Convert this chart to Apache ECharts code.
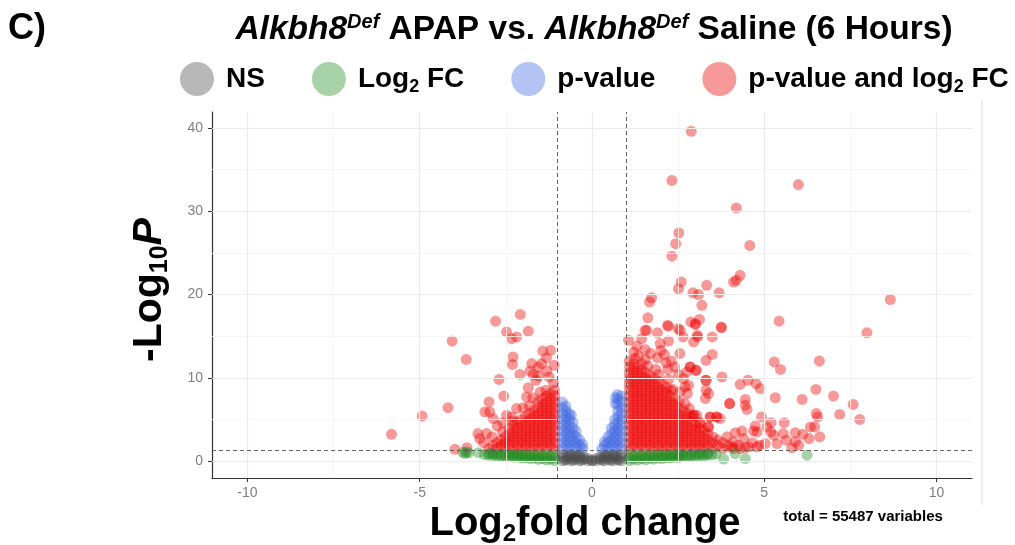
<!DOCTYPE html>
<html>
<head>
<meta charset="utf-8">
<script src="https://cdn.jsdelivr.net/npm/echarts@6/dist/echarts.min.js"></script>
<style>html,body{margin:0;padding:0;background:#fff}#c{width:1015px;height:545px}</style>
</head>
<body>
<div id="c"></div>
<script>
const xTicks = [-10, -5, 0, 5, 10];
const xMinor = [-7.5, -2.5, 2.5, 7.5];
const yTicks = [0, 10, 20, 30, 40];
const yMinor = [5, 15, 25, 35];
const fcCutoff = 1;
const pCutoff = 1.3;
const seriesNames = ['NS', 'Log2 FC', 'p-value', 'p-value and log2 FC'];

// grey: not significant
const nsPoints = [
[-0.84,0.02],[-0.84,0.38],[-0.84,0.74],
[-0.72,0.2],[-0.72,0.56],
[-0.6,0.02],[-0.6,0.38],[-0.6,0.74],
[-0.48,0.2],[-0.48,0.56],
[-0.36,0.02],[-0.36,0.38],[-0.36,0.72],
[-0.24,0.2],[-0.24,0.5],
[-0.12,0.02],[-0.12,0.3],
[0.0,0.02],[0.0,0.12],
[0.12,0.02],[0.12,0.3],
[0.24,0.2],[0.24,0.5],
[0.36,0.02],[0.36,0.38],[0.36,0.72],
[0.48,0.2],[0.48,0.56],
[0.6,0.02],[0.6,0.38],[0.6,0.74],
[0.72,0.2],[0.72,0.56],
[0.84,0.02],[0.84,0.38],[0.84,0.74],
[-0.78,0.1],[-0.66,0.66],[-0.54,0.1],[-0.42,0.64],[-0.3,0.1],
[0.3,0.1],[0.42,0.64],[0.54,0.1],[0.66,0.66],[0.78,0.1]
];

// green: log2 FC only
const fcPoints = [
[-1.08,0.05],[-1.08,0.42],[-1.08,0.76],[-1.2,0.24],[-1.2,0.6],
[-1.32,0.12],[-1.32,0.46],[-1.32,0.76],[-1.44,0.3],[-1.44,0.63],
[-1.56,0.2],[-1.56,0.5],[-1.56,0.77],[-1.68,0.36],[-1.68,0.66],
[-1.8,0.28],[-1.8,0.56],[-1.8,0.78],[-1.92,0.42],[-1.92,0.7],
[-2.04,0.36],[-2.04,0.6],[-2.04,0.8],[-2.16,0.5],[-2.16,0.75],
[-2.28,0.45],[-2.28,0.66],[-2.28,0.82],[-2.4,0.56],[-2.4,0.8],
[-2.52,0.52],[-2.52,0.72],[-2.64,0.62],[-2.64,0.84],
[-2.76,0.6],[-2.76,0.8],[-2.88,0.68],[-2.88,0.88],
[-3.0,0.7],[-3.0,0.9],[-3.12,0.78],
[-3.75,1.05],[-3.65,1.1],[-3.58,0.98],[-3.68,0.9],[-3.3,1.0],
[1.08,0.05],[1.08,0.4],[1.08,0.75],[1.2,0.22],[1.2,0.58],
[1.32,0.1],[1.32,0.45],[1.32,0.75],[1.44,0.28],[1.44,0.62],
[1.56,0.15],[1.56,0.48],[1.56,0.75],[1.68,0.32],[1.68,0.64],
[1.8,0.22],[1.8,0.5],[1.8,0.76],[1.92,0.36],[1.92,0.66],
[2.04,0.28],[2.04,0.55],[2.04,0.77],[2.16,0.42],[2.16,0.7],
[2.28,0.35],[2.28,0.6],[2.28,0.78],[2.4,0.48],[2.4,0.74],
[2.52,0.42],[2.52,0.65],[2.52,0.8],[2.64,0.55],[2.64,0.78],
[2.76,0.5],[2.76,0.72],[2.88,0.6],[2.88,0.8],
[3.0,0.55],[3.0,0.78],[3.12,0.65],[3.12,0.85],
[3.24,0.62],[3.24,0.82],[3.36,0.7],[3.36,0.9],
[3.48,0.75],[3.6,0.85],
[3.82,0.24],[4.16,0.9],[4.45,0.3],[6.24,0.7]
];

// blue: p-value only
const pPoints = [
[-0.85,1.5],[-0.85,2.2],[-0.85,2.9],[-0.85,3.6],[-0.85,4.3],[-0.85,5.0],[-0.85,5.7],[-0.85,6.4],[-0.86,7.1],
[-0.75,1.85],[-0.75,2.55],[-0.75,3.25],[-0.75,3.95],[-0.75,4.65],[-0.75,5.35],[-0.75,6.05],[-0.76,6.6],
[-0.65,1.5],[-0.65,2.2],[-0.65,2.9],[-0.65,3.6],[-0.65,4.3],[-0.65,5.0],[-0.66,5.7],
[-0.55,1.85],[-0.55,2.55],[-0.55,3.25],[-0.55,3.95],[-0.55,4.65],[-0.6,5.5],
[-0.45,1.5],[-0.45,2.2],[-0.45,2.9],[-0.46,3.6],
[-0.35,1.85],[-0.36,2.55],
[-0.26,1.5],[-0.27,2.0],
[0.85,1.5],[0.85,2.2],[0.85,2.9],[0.85,3.6],[0.85,4.3],[0.85,5.0],[0.85,5.7],[0.85,6.4],[0.85,7.1],[0.84,7.8],
[0.75,1.85],[0.75,2.55],[0.75,3.25],[0.75,3.95],[0.75,4.65],[0.75,5.35],[0.75,6.05],[0.75,6.75],[0.75,7.45],[0.74,8.0],
[0.68,6.9],[0.68,7.6],
[0.65,1.5],[0.65,2.2],[0.65,2.9],[0.65,3.6],[0.65,4.3],[0.66,5.0],
[0.55,1.85],[0.55,2.55],[0.55,3.25],[0.56,3.95],
[0.45,1.5],[0.45,2.2],[0.46,2.9],
[0.36,1.85],[0.36,2.3],
[0.28,1.45]
];

// red: p-value and log2 FC
const bothPoints = [
// left dense core
[-1.08,1.5],[-1.08,2.2],[-1.08,2.9],[-1.08,3.6],[-1.08,4.3],[-1.08,5.0],[-1.08,5.7],[-1.08,6.4],[-1.08,7.1],[-1.08,7.8],[-1.09,8.5],
[-1.2,1.85],[-1.2,2.55],[-1.2,3.25],[-1.2,3.95],[-1.2,4.65],[-1.2,5.35],[-1.2,6.05],[-1.2,6.75],[-1.2,7.45],[-1.21,8.15],
[-1.32,1.5],[-1.32,2.2],[-1.32,2.9],[-1.32,3.6],[-1.32,4.3],[-1.32,5.0],[-1.32,5.7],[-1.32,6.4],[-1.32,7.1],[-1.33,7.8],
[-1.44,1.85],[-1.44,2.55],[-1.44,3.25],[-1.44,3.95],[-1.44,4.65],[-1.44,5.35],[-1.44,6.05],[-1.44,6.75],[-1.45,7.45],
[-1.56,1.5],[-1.56,2.2],[-1.56,2.9],[-1.56,3.6],[-1.56,4.3],[-1.56,5.0],[-1.56,5.7],[-1.56,6.4],[-1.57,7.1],
[-1.68,1.85],[-1.68,2.55],[-1.68,3.25],[-1.68,3.95],[-1.68,4.65],[-1.68,5.35],[-1.69,6.05],
[-1.8,1.5],[-1.8,2.2],[-1.8,2.9],[-1.8,3.6],[-1.8,4.3],[-1.8,5.0],[-1.81,5.7],
[-1.92,1.85],[-1.92,2.55],[-1.92,3.25],[-1.92,3.95],[-1.92,4.65],[-1.93,5.35],
[-2.04,1.5],[-2.04,2.2],[-2.04,2.9],[-2.04,3.6],[-2.04,4.3],[-2.05,5.0],
[-2.16,1.85],[-2.16,2.55],[-2.16,3.25],[-2.16,3.95],[-2.17,4.65],
[-2.28,1.5],[-2.28,2.2],[-2.28,2.9],[-2.28,3.6],[-2.29,4.3],
[-2.4,1.85],[-2.4,2.55],[-2.4,3.25],[-2.41,3.9],
[-2.52,1.5],[-2.52,2.2],[-2.52,2.9],
[-2.64,1.85],[-2.64,2.55],
[-2.76,1.5],[-2.76,2.2],
[-2.88,1.85],[-3.0,1.5],
// left scattered
[-5.82,3.2],[-4.93,5.4],[-4.18,6.4],[-4.06,14.4],[-3.65,12.2],[-2.80,16.8],[-2.08,17.6],
[-2.48,15.5],[-2.33,14.7],[-2.19,14.9],[-1.85,15.6],[-2.29,12.5],[-2.31,11.6],[-2.09,10.4],[-2.70,9.8],
[-1.43,13.2],[-1.20,13.3],[-1.32,12.4],[-1.75,11.7],[-1.56,11.3],[-1.46,11.7],[-1.31,10.8],[-1.80,10.8],
[-2.56,7.8],[-2.99,7.1],[-3.11,5.9],[-2.97,5.9],[-2.87,5.1],[-3.31,3.3],[-3.06,3.3],[-3.26,2.7],
[-3.98,1.4],[-3.63,1.6],[-2.48,5.5],[-2.33,5.3],[-2.19,6.3],[-1.90,7.7],[-1.82,6.6],
[-1.12,9.4],[-1.63,9.7],[-1.85,8.8],[-1.34,8.5],[-2.75,4.2],[-2.6,4.6],[-2.3,4.8],[-1.55,10.2],[-1.25,10.1],[-1.1,11.5],[-1.7,10.4],
[-1.5,8.3],[-1.72,7.6],[-2.0,6.4],[-2.6,3.5],[-2.9,2.9],[-3.15,2.2],
// right dense core
[1.08,1.5],[1.08,2.2],[1.08,2.9],[1.08,3.6],[1.08,4.3],[1.08,5.0],[1.08,5.7],[1.08,6.4],[1.08,7.1],[1.08,7.8],[1.08,8.5],[1.08,9.2],[1.08,9.9],[1.08,10.6],[1.09,11.3],[1.08,12.0],[1.06,14.5],
[1.2,1.85],[1.2,2.55],[1.2,3.25],[1.2,3.95],[1.2,4.65],[1.2,5.35],[1.2,6.05],[1.2,6.75],[1.2,7.45],[1.2,8.15],[1.2,8.85],[1.2,9.55],[1.2,10.25],[1.2,10.95],[1.21,11.65],[1.24,12.3],[1.22,13.1],
[1.32,1.5],[1.32,2.2],[1.32,2.9],[1.32,3.6],[1.32,4.3],[1.32,5.0],[1.32,5.7],[1.32,6.4],[1.32,7.1],[1.32,7.8],[1.32,8.5],[1.32,9.2],[1.32,9.9],[1.32,10.6],[1.33,11.3],[1.35,12.6],[1.3,13.8],
[1.44,1.85],[1.44,2.55],[1.44,3.25],[1.44,3.95],[1.44,4.65],[1.44,5.35],[1.44,6.05],[1.44,6.75],[1.44,7.45],[1.44,8.15],[1.44,8.85],[1.44,9.55],[1.44,10.25],[1.44,10.95],[1.45,11.65],[1.44,14.7],
[1.56,1.5],[1.56,2.2],[1.56,2.9],[1.56,3.6],[1.56,4.3],[1.56,5.0],[1.56,5.7],[1.56,6.4],[1.56,7.1],[1.56,7.8],[1.56,8.5],[1.56,9.2],[1.56,9.9],[1.57,10.6],[1.55,12.2],[1.54,13.4],[1.54,15.7],[1.62,17.2],
[1.68,1.85],[1.68,2.55],[1.68,3.25],[1.68,3.95],[1.68,4.65],[1.68,5.35],[1.68,6.05],[1.68,6.75],[1.68,7.45],[1.68,8.15],[1.68,8.85],[1.68,9.55],[1.69,10.25],[1.62,11.4],[1.7,12.9],[1.59,15.7],[1.67,19.1],[1.73,19.6],
[1.8,1.5],[1.8,2.2],[1.8,2.9],[1.8,3.6],[1.8,4.3],[1.8,5.0],[1.8,5.7],[1.8,6.4],[1.8,7.1],[1.8,7.8],[1.8,8.5],[1.8,9.2],[1.81,9.9],[1.85,11.0],[1.9,12.4],[1.9,15.4],
[1.92,1.85],[1.92,2.55],[1.92,3.25],[1.92,3.95],[1.92,4.65],[1.92,5.35],[1.92,6.05],[1.92,6.75],[1.92,7.45],[1.92,8.15],[1.92,8.85],[1.93,9.55],[1.93,10.4],[2.0,13.3],[1.98,14.1],
[2.04,1.5],[2.04,2.2],[2.04,2.9],[2.04,3.6],[2.04,4.3],[2.04,5.0],[2.04,5.7],[2.04,6.4],[2.04,7.1],[2.04,7.8],[2.04,8.5],[2.05,9.2],[2.15,11.8],[2.1,12.8],
[2.16,1.85],[2.16,2.55],[2.16,3.25],[2.16,3.95],[2.16,4.65],[2.16,5.35],[2.16,6.05],[2.16,6.75],[2.16,7.45],[2.16,8.15],[2.17,8.85],[2.2,11.0],
[2.28,1.5],[2.28,2.2],[2.28,2.9],[2.28,3.6],[2.28,4.3],[2.28,5.0],[2.28,5.7],[2.28,6.4],[2.28,7.1],[2.28,7.8],[2.29,8.5],[2.22,9.8],[2.3,12.0],[2.22,14.4],[2.19,16.3],
[2.4,1.85],[2.4,2.55],[2.4,3.25],[2.4,3.95],[2.4,4.65],[2.4,5.35],[2.4,6.05],[2.4,6.75],[2.41,7.45],[2.35,8.6],[2.4,11.3],
[2.52,1.5],[2.52,2.2],[2.52,2.9],[2.52,3.6],[2.52,4.3],[2.52,5.0],[2.52,5.7],[2.52,6.4],[2.53,7.1],[2.56,8.3],[2.5,10.4],[2.55,12.9],[2.5,15.9],[2.56,15.7],
[2.64,1.85],[2.64,2.55],[2.64,3.25],[2.64,3.95],[2.64,4.65],[2.64,5.35],[2.65,6.05],[2.7,6.9],[2.77,8.1],[2.65,9.9],[2.64,14.9],
[2.76,1.5],[2.76,2.2],[2.76,2.9],[2.76,3.6],[2.76,4.3],[2.76,5.0],[2.77,5.7],[2.7,8.9],[2.8,9.1],[2.75,10.7],
[2.88,1.85],[2.88,2.55],[2.88,3.25],[2.88,3.95],[2.88,4.65],[2.89,5.35],[2.83,6.3],[2.85,11.3],[2.87,16.7],[2.95,14.3],
[3.0,1.5],[3.0,2.2],[3.0,2.9],[3.0,3.6],[3.01,4.3],[2.95,5.5],[3.04,5.5],[3.02,10.9],[3.0,16.4],[3.06,15.1],[3.12,17.0],
[3.12,1.85],[3.12,2.55],[3.12,3.25],[3.12,3.95],[3.13,4.65],
[3.24,1.5],[3.24,2.2],[3.24,2.9],[3.25,3.6],
[3.36,1.85],[3.36,2.55],[3.36,3.25],[3.38,4.1],[3.43,5.3],[3.29,7.5],[3.38,8.1],[3.31,8.5],[3.31,9.7],[3.31,12.1],[3.49,14.9],
[3.5,1.5],[3.5,2.2],[3.51,2.9],
[3.65,1.85],[3.65,2.55],[3.62,5.3],[3.72,5.1],
[3.8,1.5],[3.8,2.2],[3.92,2.9],[3.99,6.9],[3.77,10.1],[3.75,16.1],
[3.95,1.85],[4.1,1.5],
// right scattered
[4.06,1.7],[4.1,2.3],[4.16,3.4],[4.25,1.9],[4.3,1.5],[4.35,3.6],[4.4,2.7],[4.45,1.6],[4.55,1.7],[4.65,2.2],
[4.69,3.6],[4.74,4.2],[4.79,3.5],[4.79,1.7],[4.88,1.9],[4.92,5.3],[5.03,2.1],[5.08,4.1],[5.19,3.5],[5.2,4.6],[5.27,3.1],[5.37,2.1],
[5.55,3.3],[5.58,4.6],[5.64,2.5],[5.8,1.6],[5.9,3.4],[5.9,2.3],[6.0,1.9],[6.12,3.2],[6.3,2.7],[6.34,4.1],[6.46,4.1],[6.61,2.9],
[6.51,5.7],[6.55,5.3],[7.19,5.6],[7.77,5.0],[7.58,6.8],[7.01,7.8],[6.1,7.4],[5.32,7.6],[6.5,8.6],[4.45,7.4],[4.45,6.7],[4.5,6.2],
[4.3,9.2],[4.53,9.7],[4.76,9.3],[4.88,8.7],[5.29,11.9],[5.47,11.0],[6.6,12.0],[5.43,16.8],[7.98,15.4],[8.66,19.4],
[2.88,39.6],[2.32,33.7],[5.99,33.2],[4.19,30.4],[2.52,27.4],[2.43,26.1],[4.58,25.9],[2.32,24.6],[4.3,22.3],[4.19,21.7],[4.11,21.5],
[2.59,21.5],[2.51,20.7],[3.33,21.1],[2.93,20.2],[3.09,20.0],[3.69,20.2],[3.19,18.7],[3.0,16.5],[2.22,16.2],[3.76,16.0],
[3.06,14.9],[3.49,12.8],[2.85,11.3],[3.02,10.9],[3.31,9.7],[4.0,6.9],[3.43,5.3],[3.62,5.3],[3.14,4.5],[3.38,4.1],[2.95,5.5]
];

const FF = '"Liberation Sans", Arial, Helvetica, sans-serif';
const colors = ['rgba(77,77,77,0.5)', 'rgba(34,139,34,0.5)', 'rgba(65,105,225,0.5)', 'rgba(238,0,0,0.5)'];
const pointSets = [nsPoints, fcPoints, pPoints, bothPoints];
const drawZ = [6, 4, 5, 3];

const chart = echarts.init(document.getElementById('c'), null, {renderer: 'canvas'});

const gridSeries = {
  type: 'scatter', data: [], silent: true, z: 0,
  markLine: {
    silent: true, symbol: 'none', animation: false,
    label: {show: false}, emphasis: {disabled: true},
    data: [
      ...xMinor.map(v => ({xAxis: v, lineStyle: {color: '#f3f3f3', width: 0.8, type: 'solid'}})),
      ...yMinor.map(v => ({yAxis: v, lineStyle: {color: '#f3f3f3', width: 0.8, type: 'solid'}})),
      ...xTicks.map(v => ({xAxis: v, lineStyle: {color: '#ebebeb', width: 1.2, type: 'solid'}})),
      ...yTicks.map(v => ({yAxis: v, lineStyle: {color: '#ebebeb', width: 1.2, type: 'solid'}}))
    ]
  }
};

const cutSeries = {
  type: 'scatter', data: [], silent: true, z: 10,
  markLine: {
    silent: true, symbol: 'none', animation: false,
    label: {show: false}, emphasis: {disabled: true},
    lineStyle: {color: '#555', width: 0.9, type: [4, 3]},
    data: [{xAxis: -fcCutoff}, {xAxis: fcCutoff}, {yAxis: pCutoff}]
  }
};

const pointSeries = seriesNames.map((n, i) => ({
  name: n, type: 'scatter', data: pointSets[i], symbol: 'circle', symbolSize: 11,
  itemStyle: {color: colors[i]}, z: drawZ[i], silent: true, emphasis: {disabled: true},
  large: false, progressive: 0
}));

const legendLabels = {
  'NS': 'NS',
  'Log2 FC': 'Log{s|2} FC',
  'p-value': 'p-value',
  'p-value and log2 FC': 'p-value and log{s|2} FC'
};

const option = {
  backgroundColor: '#fff',
  animation: false,
  grid: {left: 212, right: 43, top: 112, bottom: 67, containLabel: false},
  xAxis: {
    type: 'value', min: -11.03, max: 11.03,
    axisLine: {show: true, onZero: false, lineStyle: {color: '#333', width: 1.2}},
    axisTick: {show: true, customValues: xTicks, length: 4, lineStyle: {color: '#333', width: 1}},
    axisLabel: {customValues: xTicks, color: '#7f7f7f', fontSize: 14, margin: 8, fontFamily: FF},
    splitLine: {show: false}
  },
  yAxis: {
    type: 'value', min: -2.04, max: 41.92,
    axisLine: {show: true, onZero: false, lineStyle: {color: '#333', width: 1.2}},
    axisTick: {show: true, customValues: yTicks, length: 4, lineStyle: {color: '#333', width: 1}},
    axisLabel: {customValues: yTicks, color: '#7f7f7f', fontSize: 14, margin: 9, fontFamily: FF},
    splitLine: {show: false}
  },
  legend: {
    data: seriesNames, left: 175, top: 57, icon: 'circle', itemWidth: 34, itemHeight: 34,
    itemGap: 47, selectedMode: false,
    formatter: n => legendLabels[n],
    textStyle: {
      fontSize: 28, fontWeight: 'bold', color: '#000', fontFamily: FF, padding: [0, 0, 0, 7],
      rich: {s: {fontSize: 18, fontWeight: 'bold', color: '#000', fontFamily: FF, padding: [16, 0, 0, 0]}}
    }
  },
  graphic: [
    {type: 'text', left: 8, top: 11, style: {text: 'C)', fontSize: 36, fontWeight: 'bold', fill: '#000', fontFamily: FF}},
    {type: 'text', x: 594, y: 30, style: {
      text: '{i|Alkbh8}{u|Def} APAP vs. {i|Alkbh8}{u|Def} Saline (6 Hours)',
      align: 'center', verticalAlign: 'middle', fontSize: 33.5, fontWeight: 'bold', fill: '#000', fontFamily: FF,
      rich: {
        i: {fontSize: 33.5, fontWeight: 'bold', fontStyle: 'italic', fill: '#000', fontFamily: FF},
        u: {fontSize: 20, fontWeight: 'bold', fontStyle: 'italic', fill: '#000', fontFamily: FF, padding: [0, 0, 16, 0]}
      }
    }},
    {type: 'text', x: 150, y: 290, rotation: Math.PI / 2, style: {
      text: '-Log{s|10}{p|P}', align: 'center', verticalAlign: 'middle',
      fontSize: 41, fontWeight: 'bold', fill: '#000', fontFamily: FF,
      rich: {
        s: {fontSize: 25, fontWeight: 'bold', fill: '#000', fontFamily: FF, padding: [20, 0, 0, 0]},
        p: {fontSize: 41, fontWeight: 'bold', fontStyle: 'italic', fill: '#000', fontFamily: FF}
      }
    }},
    {type: 'text', x: 585, y: 524, style: {
      text: 'Log{s|2}fold change', align: 'center', verticalAlign: 'middle',
      fontSize: 40, fontWeight: 'bold', fill: '#000', fontFamily: FF,
      rich: {s: {fontSize: 24, fontWeight: 'bold', fill: '#000', fontFamily: FF, padding: [20, 0, 0, 0]}}
    }},
    {type: 'text', x: 863, y: 517, style: {
      text: 'total = 55487 variables', align: 'center', verticalAlign: 'middle',
      fontSize: 15, fontWeight: 'bold', fill: '#000', fontFamily: FF
    }},
    {type: 'line', shape: {x1: 982, y1: 100, x2: 982, y2: 505}, style: {stroke: '#dcdcdc', lineWidth: 1}}
  ],
  series: [gridSeries, ...pointSeries, cutSeries]
};
chart.setOption(option);
</script>
</body>
</html>
